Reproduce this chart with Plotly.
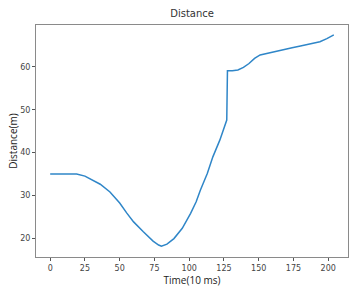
import plotly.graph_objects as go

time = [0, 10, 19, 25, 30, 36, 43, 50, 55, 60, 67, 74, 78, 80, 84, 89, 95, 101, 105, 108, 113, 117, 122, 124, 127, 127.5, 131, 135, 139, 143, 147, 151, 156, 162, 168, 174, 180, 187, 194, 199, 204]
distance = [35.0, 35.0, 35.0, 34.5, 33.7, 32.6, 30.8, 28.2, 25.9, 23.8, 21.5, 19.3, 18.4, 18.1, 18.6, 19.9, 22.3, 25.8, 28.5, 31.2, 35.1, 39.0, 42.9, 44.9, 47.6, 59.1, 59.1, 59.3, 59.9, 60.8, 62.0, 62.8, 63.2, 63.5, 64.0, 64.5, 64.9, 65.4, 65.9, 66.6, 67.5]

x_ticks = [0, 25, 50, 75, 100, 125, 150, 175, 200]
y_ticks = [20, 30, 40, 50, 60]

fig = go.Figure()
fig.add_trace(go.Scatter(x=time, y=distance, mode="lines",
                         line=dict(color="#2f86c8", width=1.5), showlegend=False))

axis_common = dict(showgrid=False, zeroline=False, showline=True, linecolor="#8a8a8a",
                   linewidth=1, mirror=True, ticks="outside", ticklen=3, tickcolor="#555",
                   automargin=False,
                   tickfont=dict(family="DejaVu Sans", size=8, color="#444"))

fig.update_layout(
    width=359, height=289,
    margin=dict(l=36, r=11, t=25, b=32),
    paper_bgcolor="white", plot_bgcolor="white",
    title=dict(text="Distance", x=0.535, xanchor="center", y=0.955, yanchor="middle",
               font=dict(family="DejaVu Sans", size=10, color="#333")),
    xaxis=dict(range=[-10.2, 214.2], tickvals=x_ticks,
               title=dict(text="Time(10 ms)", standoff=2,
                          font=dict(family="Open Sans", size=10, color="#222")),
               **axis_common),
    yaxis=dict(range=[15.6, 69.8], tickvals=y_ticks,
               title=dict(text="Distance(m)", standoff=0,
                          font=dict(family="Open Sans", size=10, color="#222")),
               **axis_common),
)

fig.write_html("out.html", config={"displayModeBar": False},
               post_script="document.body.style.margin='0';document.body.style.overflow='hidden';")
